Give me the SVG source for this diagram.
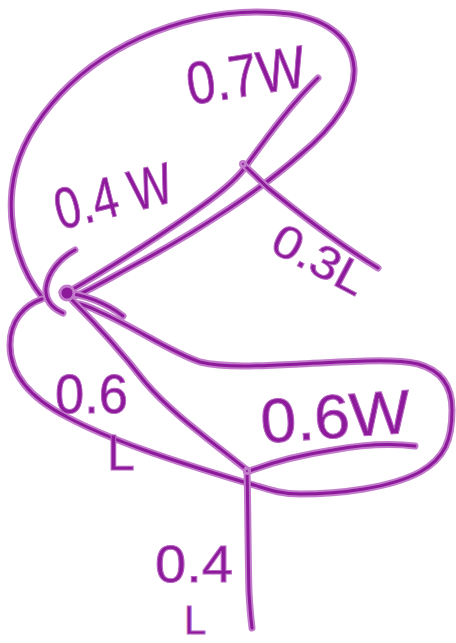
<svg xmlns="http://www.w3.org/2000/svg" xmlns:xlink="http://www.w3.org/1999/xlink" width="456" height="643" viewBox="0 0 456 643">
<style>
.halo{fill:none;stroke:#c27bcb;stroke-width:7;stroke-linecap:round;stroke-linejoin:round}
.ink{fill:none;stroke:#8c1a9a;stroke-width:3;stroke-linecap:round;stroke-linejoin:round}
.lbl{font-family:"Liberation Sans",Arial,sans-serif;fill:#8c1a9a;stroke:#b866c2;stroke-width:1}
.dot{fill:#8c1a9a;stroke:#c27bcb;stroke-width:3}
</style>
<defs>
<path id="topLoop" d="M42,297 C20,270 8,230 12,190 C18,130 70,70 140,38 C190,16 240,8 290,14 C330,20 352,40 354,68 C356,100 330,130 300,155 C260,190 200,230 140,262 C110,278 90,290 75,296"/>
<path id="e07" d="M68,292 C110,268 170,230 210,200 C230,185 240,175 246,166 C265,140 290,105 318,78"/>
<path id="e03" d="M245,166 L268,188 C295,210 340,245 378,268"/>
<path id="arcL" d="M75,250 C60,258 48,272 46,288 C45,300 52,308 63,313"/>
<path id="e04" d="M62,292 C85,295 105,302 123,316"/>
<path id="botLoop" d="M42,299 C25,305 10,320 10,345 C10,375 30,398 67,417 C110,440 170,460 247,483 C265,488 278,494 300,494 C340,494 390,488 420,472 C445,458 452,440 452,410 C452,385 440,370 418,364 C390,358 350,362 300,364 C260,366 225,368 200,362 C170,352 140,330 100,312 C90,307 82,304 75,303"/>
<path id="e06" d="M72,300 C90,318 120,350 145,382 C170,412 210,440 247,470"/>
<path id="e06w" d="M247,472 C270,463 300,455 333,450 C360,445 390,443 415,446"/>
<path id="e04l" d="M247,470 C248,510 248,560 249,593 C250,610 251,620 252,628"/>
</defs>
<g id="connectors">
<use xlink:href="#topLoop" class="halo"/><use xlink:href="#topLoop" class="ink"/>
<use xlink:href="#e07" class="halo"/><use xlink:href="#e07" class="ink"/>
<use xlink:href="#e03" class="halo"/><use xlink:href="#e03" class="ink"/>
<use xlink:href="#arcL" class="halo"/><use xlink:href="#arcL" class="ink"/>
<use xlink:href="#e04" class="halo"/><use xlink:href="#e04" class="ink"/>
<use xlink:href="#botLoop" class="halo"/><use xlink:href="#botLoop" class="ink"/>
<use xlink:href="#e06" class="halo"/><use xlink:href="#e06" class="ink"/>
<use xlink:href="#e06w" class="halo"/><use xlink:href="#e06w" class="ink"/>
<use xlink:href="#e04l" class="halo"/><use xlink:href="#e04l" class="ink"/>
</g>
<g id="start"><circle class="dot" cx="67" cy="293" r="7"/></g>
<g id="mid"><circle class="dot" cx="243" cy="164" r="2.5"/></g>
<g id="junction"><circle class="dot" cx="247" cy="471" r="2.5"/></g>
<g id="labels">
<text class="lbl" x="190" y="105" font-size="60" textLength="120" lengthAdjust="spacingAndGlyphs" transform="rotate(-9 190 105)">0.7W</text>
<text class="lbl" x="60" y="230" font-size="58" textLength="120" lengthAdjust="spacingAndGlyphs" transform="rotate(-14 60 230)">0.4 W</text>
<text class="lbl" x="268" y="250" font-size="46" textLength="100" lengthAdjust="spacingAndGlyphs" transform="rotate(28 268 250)">0.3L</text>
<text class="lbl" x="55" y="413" font-size="56" textLength="73" lengthAdjust="spacingAndGlyphs">0.6</text>
<text class="lbl" x="107" y="470" font-size="50">L</text>
<text class="lbl" x="262" y="443" font-size="62" textLength="150" lengthAdjust="spacingAndGlyphs" transform="rotate(-4 262 443)">0.6W</text>
<text class="lbl" x="155" y="582" font-size="52" textLength="78" lengthAdjust="spacingAndGlyphs">0.4</text>
<text class="lbl" x="184" y="634" font-size="40">L</text>
</g>
</svg>
